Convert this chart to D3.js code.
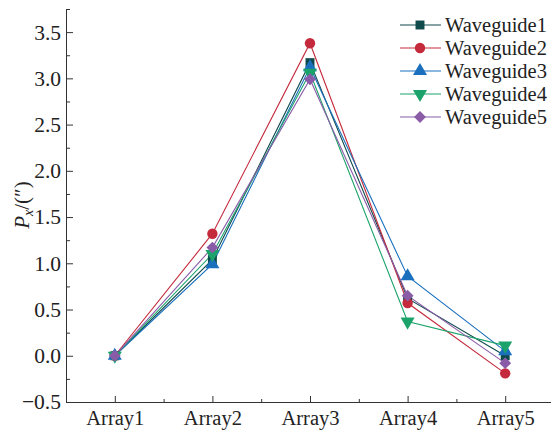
<!DOCTYPE html>
<html>
<head>
<meta charset="utf-8">
<title>Waveguide Px</title>
<script src="https://cdnjs.cloudflare.com/ajax/libs/d3/7.8.5/d3.min.js"></script>
<style>
 body { margin: 0; background: #fff; }
 .domain, .tick line { stroke: #333; }
</style>
</head>
<body>
<svg id="viz" width="551" height="431"></svg>
<script>

// categories and series
var categories = ["Array1", "Array2", "Array3", "Array4", "Array5"];
var seriesNames = ["Waveguide1", "Waveguide2", "Waveguide3", "Waveguide4", "Waveguide5"];
var waveguide1 = [0.0, 1.04, 3.17, 0.62, 0.00];
var waveguide2 = [0.0, 1.32, 3.38, 0.57, -0.19];
var waveguide3 = [0.0, 0.99, 3.12, 0.86, 0.05];
var waveguide4 = [0.0, 1.10, 3.06, 0.37, 0.11];
var waveguide5 = [0.0, 1.17, 2.99, 0.65, -0.08];
var yTicks = [-0.5, 0, 0.5, 1.0, 1.5, 2.0, 2.5, 3.0, 3.5];

var colors = ["#0f4a4c", "#c42a3c", "#1a70bd", "#1ba36b", "#8a5ca8"];
// diamond drawn as a square turned 45 degrees, as in the picture
var symbols = [d3.symbolSquare, d3.symbolCircle, d3.symbolTriangle, d3.symbolTriangle, d3.symbolSquare];
var symSizes = [80, 85, 85, 85, 70];
var rotations = [0, 0, 0, 180, 45];

var allSeries = [waveguide1, waveguide2, waveguide3, waveguide4, waveguide5];

var serif = "Liberation Serif";

var svg = d3.select("#viz");

var mLeft = 66, mRight = 554, mTop = 9, mBottom = 402;

var x = d3.scaleLinear().domain([0.5, 5.5]).range([mLeft, mRight]);
var y = d3.scaleLinear().domain([-0.5, 3.75]).range([mBottom, mTop]);

// y axis: minor ticks every 0.25, all ticks pointing inward
svg.append("g")
    .attr("transform", "translate(" + mLeft + ",0)")
    .call(d3.axisRight(y).tickValues(d3.range(-0.25, 3.8, 0.5)).tickSize(4).tickFormat(""))
    .call(function(g) { g.select(".domain").remove(); });

var yAxis = svg.append("g")
    .attr("transform", "translate(" + mLeft + ",0)")
    .call(d3.axisLeft(y).tickValues(yTicks).tickSize(-7).tickPadding(5).tickFormat(d3.format(".1f")));
yAxis.select(".domain").attr("d", "M0.5," + mTop + "V" + mBottom);
yAxis.selectAll("text").attr("font-size", 21.5);

// x axis
svg.append("g")
    .attr("transform", "translate(0," + mBottom + ")")
    .call(d3.axisTop(x).tickValues([1.5, 2.5, 3.5, 4.5]).tickSize(3).tickFormat(""))
    .call(function(g) { g.select(".domain").remove(); });

var xAxis = svg.append("g")
    .attr("transform", "translate(0," + mBottom + ")")
    .call(d3.axisBottom(x).tickValues([1, 2, 3, 4, 5]).tickSize(-6).tickPadding(8)
        .tickFormat(function(d) { return categories[d - 1]; }));
xAxis.select(".domain").attr("d", "M" + mLeft + ",0.5H" + mRight);
xAxis.selectAll("text").attr("font-size", 20.5);

[yAxis, xAxis].forEach(function(g) {
    g.attr("font-family", serif);
    g.selectAll("text").attr("font-family", serif).attr("fill", "#222");
});

// y label
var yl = svg.append("text")
    .attr("transform", "translate(29,205) rotate(-90)")
    .attr("text-anchor", "middle")
    .attr("font-family", serif)
    .attr("font-size", 21)
    .attr("fill", "#222");
yl.append("tspan").attr("font-style", "italic").text("P");
yl.append("tspan").attr("font-style", "italic").attr("font-size", 14).attr("dy", 4).text("x");
yl.append("tspan").attr("dy", -4).text("/(\u2033)");

// lines and markers
var line = d3.line()
    .x(function(d, i) { return x(i + 1); })
    .y(function(d) { return y(d); });

allSeries.forEach(function(vals, s) {
    svg.append("path")
        .datum(vals)
        .attr("fill", "none")
        .attr("stroke", colors[s])
        .attr("stroke-width", 1.1)
        .attr("d", line);
});

allSeries.forEach(function(vals, s) {
    svg.selectAll(".m" + s)
        .data(vals)
        .enter().append("path")
        .attr("class", "m" + s)
        .attr("fill", colors[s])
        .attr("transform", function(d, i) {
            return "translate(" + x(i + 1) + "," + y(d) + ") rotate(" + rotations[s] + ")";
        })
        .attr("d", d3.symbol().type(symbols[s]).size(symSizes[s]));
});

// legend
var legend = svg.append("g");
seriesNames.forEach(function(name, s) {
    var ly = 25 + s * 23;
    legend.append("line")
        .attr("x1", 400).attr("x2", 441)
        .attr("y1", ly).attr("y2", ly)
        .attr("stroke", colors[s]).attr("stroke-width", 1.1);
    legend.append("path")
        .attr("fill", colors[s])
        .attr("transform", "translate(420," + ly + ") rotate(" + rotations[s] + ")")
        .attr("d", d3.symbol().type(symbols[s]).size(symSizes[s]));
    legend.append("text")
        .attr("x", 445).attr("y", ly)
        .attr("dy", "0.35em")
        .attr("font-family", serif)
        .attr("font-size", 20.5)
        .attr("fill", "#222")
        .text(name);
});

</script>
</body>
</html>
